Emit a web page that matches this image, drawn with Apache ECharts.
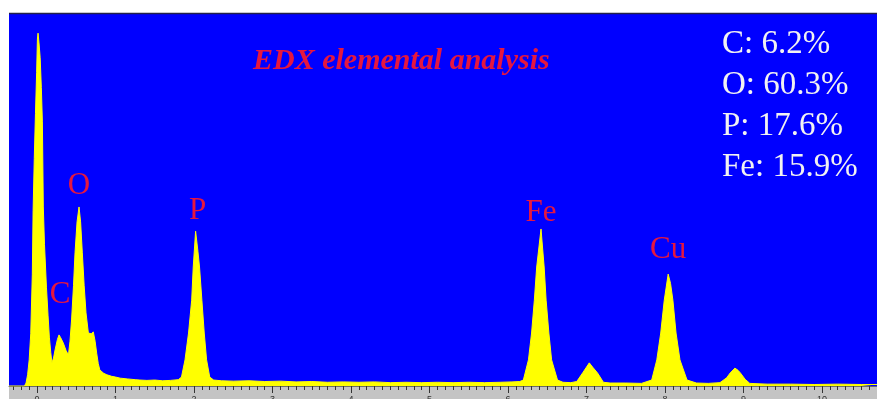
<!DOCTYPE html>
<html>
<head>
<meta charset="utf-8">
<script src="https://cdn.jsdelivr.net/npm/echarts@6/dist/echarts.min.js"></script>
<style>
  html, body { margin: 0; padding: 0; background: #ffffff; }
  #chart { width: 877px; height: 399px; }
</style>
</head>
<body>
<div id="chart"></div>
<script>
// EDX spectrum: photon energy (keV) and detector counts
const energies = [
  -0.357, -0.16, -0.14, -0.12, -0.10, -0.08, -0.06, -0.05, -0.035, -0.02, -0.005,
  0.005, 0.013, 0.025, 0.04, 0.055, 0.068, 0.08, 0.095, 0.12, 0.14, 0.157, 0.175,
  0.19, 0.21, 0.23, 0.26, 0.28, 0.30, 0.335, 0.37, 0.40, 0.42, 0.44, 0.465, 0.484,
  0.51, 0.535, 0.555, 0.577, 0.60, 0.624, 0.654, 0.69, 0.717, 0.74, 0.76, 0.78, 0.80,
  0.85, 0.89, 0.95, 1.0, 1.06, 1.15, 1.25, 1.31, 1.4, 1.5, 1.6, 1.7, 1.8,
  1.84, 1.885, 1.93, 1.97, 1.99, 2.02, 2.05, 2.07, 2.10, 2.13, 2.16, 2.20,
  2.25, 2.35, 2.5, 2.7, 2.9, 3.1, 3.3, 3.5, 3.7, 3.9, 4.1, 4.3, 4.5, 4.7, 4.9,
  5.1, 5.3, 5.5, 5.7, 5.9, 6.05, 6.15, 6.195, 6.26, 6.30, 6.335, 6.365, 6.42,
  6.46, 6.485, 6.52, 6.555, 6.63, 6.7, 6.8, 6.875, 6.95, 7.035, 7.08, 7.14, 7.215,
  7.3, 7.5, 7.7, 7.83, 7.895, 7.945, 7.99, 8.04, 8.07, 8.10, 8.14, 8.19, 8.28,
  8.4, 8.55, 8.70, 8.785, 8.83, 8.89, 8.93, 8.96, 9.02, 9.08, 9.3, 9.6, 9.9,
  10.2, 10.5, 10.7
];
const counts = [
  0, 0, 8, 30, 70, 140, 300, 470, 610, 730, 840,
  930, 946, 920, 880, 800, 710, 480, 380, 265, 190, 131, 90,
  62, 75, 97, 125, 137, 130, 115, 95, 83, 120, 177, 270, 357,
  440, 480, 440, 357, 270, 196, 142, 140, 145, 120, 88, 60, 43,
  34, 30, 26, 24, 21, 19, 17, 16, 15, 16, 14, 15, 17,
  24, 70, 142, 230, 319, 415, 360, 319, 230, 142, 70, 24,
  16, 14, 13, 14, 12, 13, 11, 12, 10, 11, 10, 11, 9, 10, 9,
  10, 9, 10, 9, 10, 11, 12, 16, 70, 142, 230, 319, 421,
  319, 230, 142, 70, 16, 10, 9, 12, 35, 62, 50, 35, 10,
  8, 8, 7, 16, 70, 142, 230, 300, 275, 230, 142, 70, 16,
  8, 7, 9, 22, 35, 48, 42, 35, 18, 7, 5, 5, 4,
  5, 4, 4
];

// Peak identification labels (element, line energy in keV)
const peakNames = ['C', 'O', 'P', 'Fe', 'Cu'];
const peakEnergies = [0.28, 0.535, 2.02, 6.42, 8.04];

// Quantification result (atomic %)
const quantElements = ['C', 'O', 'P', 'Fe'];
const quantPercent = [6.2, 60.3, 17.6, 15.9];

// Axis ticks (keV)
const majorTicks = [0, 1, 2, 3, 4, 5, 6, 7, 8, 9, 10];
const xMin = -0.357, xMax = 10.7;

const minorTicks = [];
for (let i = Math.ceil(xMin * 10); i <= Math.floor(xMax * 10); i++) minorTicks.push(i / 10);

const seriesData = energies.map((e, i) => [e, counts[i]]);

function countAt(e) {
  let best = 0, bd = Infinity;
  energies.forEach((x, i) => { const d = Math.abs(x - e); if (d < bd) { bd = d; best = counts[i]; } });
  return best;
}

// label placement relative to each peak top, in pixels
const labelOffsets = {
  'C': [1, -40], 'O': [0, -21], 'P': [2, -20], 'Fe': [0, -16], 'Cu': [0, -24]
};

const RED = '#e5173f';
const SERIF = '"Liberation Serif", "Times New Roman", serif';

const chart = echarts.init(document.getElementById('chart'), null, { renderer: 'canvas' });

chart.setOption({
  animation: false,
  backgroundColor: '#ffffff',
  grid: {
    left: 9, right: 0, top: 13, bottom: 13,
    outerBoundsMode: 'none',
    containLabel: false,
    show: true, backgroundColor: '#0000ff', borderWidth: 0
  },
  xAxis: [
    {
      type: 'value', min: xMin, max: xMax,
      axisLine: { show: true, lineStyle: { color: '#6a6a6a', width: 1 } },
      axisTick: { show: true, customValues: minorTicks, length: 4, lineStyle: { color: '#333' } },
      axisLabel: { show: true, customValues: majorTicks, fontSize: 9, color: '#333', margin: 9,
                   fontFamily: 'Arial, "Liberation Sans", sans-serif' },
      splitLine: { show: false }
    },
    {
      type: 'value', min: xMin, max: xMax, position: 'bottom',
      axisLine: { show: false },
      axisTick: { show: true, customValues: majorTicks, length: 7, lineStyle: { color: '#333' } },
      axisLabel: { show: false },
      splitLine: { show: false }
    }
  ],
  yAxis: { type: 'value', min: 0, max: 1000, show: false, splitLine: { show: false } },
  series: [{
    type: 'line',
    xAxisIndex: 0,
    data: seriesData,
    showSymbol: false,
    symbol: 'none',
    lineStyle: { color: '#ffff00', width: 1 },
    areaStyle: { color: '#ffff00', opacity: 1 },
    z: 3,
    markPoint: {
      symbol: 'rect', symbolSize: 1,
      itemStyle: { color: 'rgba(0,0,0,0)' },
      label: { show: true, position: 'inside', color: RED, fontSize: 31, fontFamily: SERIF },
      data: peakNames.map((n, i) => ({
        coord: [peakEnergies[i], countAt(peakEnergies[i])],
        value: n,
        label: { formatter: n, offset: labelOffsets[n] }
      }))
    }
  }],
  graphic: [
    { type: 'rect', shape: { x: 9, y: 386, width: 868, height: 13 },
      style: { fill: '#c4c4c4' }, z: -1, silent: true },
    { type: 'line', shape: { x1: 9, y1: 13.5, x2: 877, y2: 13.5 },
      style: { stroke: '#22224a', lineWidth: 1.5 }, z: 10, silent: true },
    { type: 'text', left: 253, top: 46, z: 10,
      style: { text: 'EDX elemental analysis', fill: RED, fontSize: 30, fontWeight: 'bold',
               fontStyle: 'italic', fontFamily: SERIF } },
    { type: 'text', left: 722, top: 24, z: 10,
      style: { text: quantElements.map((e, i) => e + ': ' + quantPercent[i].toFixed(1) + '%').join('\n'),
               fill: '#f2f2f2', fontSize: 33, lineHeight: 41, fontFamily: SERIF } }
  ]
});
</script>
</body>
</html>
